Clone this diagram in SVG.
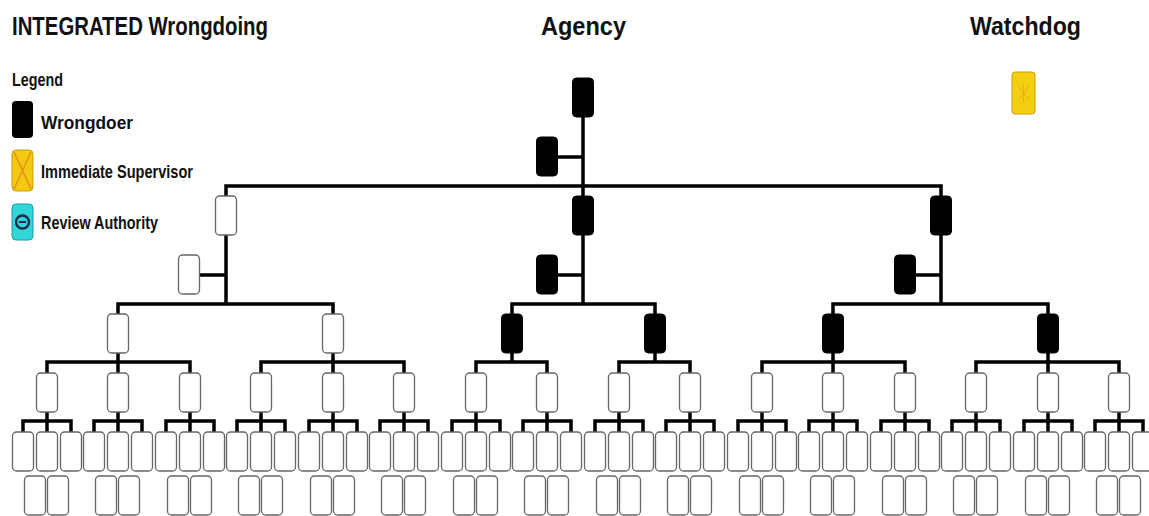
<svg xmlns="http://www.w3.org/2000/svg" xmlns:xlink="http://www.w3.org/1999/xlink" width="1149" height="516" viewBox="0 0 1149 516">
  <style>
    .t { font-family: "Liberation Sans", Arial, sans-serif; font-weight: bold; fill: #111; }
    .title { font-size: 25px; }
    .leg { font-size: 19px; }
    .legh { font-size: 18px; }
    .wire { fill: none; stroke: #000; stroke-width: 3.5; stroke-linejoin: miter; }
  </style>
  <defs>
    <rect id="wbox" width="21" height="39" rx="4" fill="#fff" stroke="#666" stroke-width="1.3"/>
    <rect id="bbox" width="21" height="39" rx="4" fill="#000" stroke="#000" stroke-width="1"/>
  </defs>

  <rect width="1149" height="516" fill="#fff"/>

  <!-- headings -->
  <text class="t title" x="12" y="35" textLength="256" lengthAdjust="spacingAndGlyphs">INTEGRATED Wrongdoing</text>
  <text class="t title" x="541" y="35" textLength="85" lengthAdjust="spacingAndGlyphs">Agency</text>
  <text class="t title" x="970" y="35" textLength="111" lengthAdjust="spacingAndGlyphs">Watchdog</text>

  <!-- legend -->
  <g id="legend">
    <text class="t legh" x="12" y="86" textLength="51" lengthAdjust="spacingAndGlyphs">Legend</text>
    <rect x="12" y="101" width="21" height="37" rx="4" fill="#000"/>
    <text class="t leg" x="41" y="129" textLength="92" lengthAdjust="spacingAndGlyphs">Wrongdoer</text>
    <rect x="12" y="150" width="21" height="41" rx="4" fill="#f3c812" stroke="#c9a10a" stroke-width="1"/>
    <path d="M14,152 L31,189 M31,152 L14,189" stroke="#e0861a" stroke-width="1.2" fill="none"/>
    <text class="t leg" x="41" y="178" textLength="152" lengthAdjust="spacingAndGlyphs">Immediate Supervisor</text>
    <rect x="12" y="204" width="21" height="36" rx="4" fill="#33d6d8" stroke="#1a9fa3" stroke-width="1"/>
    <circle cx="22.5" cy="222" r="6.5" fill="none" stroke="#13304a" stroke-width="2.4"/>
    <path d="M19,222 H26" stroke="#13304a" stroke-width="2"/>
    <text class="t leg" x="41" y="229" textLength="117" lengthAdjust="spacingAndGlyphs">Review Authority</text>
  </g>

  <!-- watchdog -->
  <g id="watchdog">
    <rect x="1012" y="72" width="23" height="42" rx="3" fill="#f3cf12" stroke="#c9a10a" stroke-width="1"/>
    <path d="M1018,86 L1029,100 M1029,86 L1018,100 M1023.5,84 V102" stroke="#e8961a" stroke-width="1" opacity="0.6" fill="none"/>
  </g>

  <!-- connectors -->
  <g id="connectors" class="wire">
    <!-- top -->
    <path d="M583,117 V196"/>
    <path d="M557.5,157 H583"/>
    <path d="M226,196 V186 H941 V196"/>
    <!-- level 1 to level 2 -->
    <path d="M226,235 V304"/>
    <path d="M199.5,275 H226"/>
    <path d="M118,314 V304 H333 V314"/>
    <path d="M583,235 V304"/>
    <path d="M557.5,275 H583"/>
    <path d="M512,314 V304 H655 V314"/>
    <path d="M941,235 V304"/>
    <path d="M915.5,275 H941"/>
    <path d="M833,314 V304 H1048 V314"/>
    <!-- level 2 to level 3 -->
    <path d="M118,353 V373 M47,373 V362 H190 V373"/>
    <path d="M333,353 V373 M261,373 V362 H404 V373"/>
    <path d="M512,353 V362 M476,373 V362 H547 V373"/>
    <path d="M655,353 V362 M619,373 V362 H690 V373"/>
    <path d="M833,353 V373 M762,373 V362 H905 V373"/>
    <path d="M1048,353 V373 M976,373 V362 H1119 V373"/>
    <!-- level 3 to level 4 -->
    <path d="M47,412 V432 M23,432 V421 H71 V432"/>
    <path d="M118,412 V432 M94,432 V421 H142 V432"/>
    <path d="M190,412 V432 M166,432 V421 H214 V432"/>
    <path d="M261,412 V432 M237,432 V421 H285 V432"/>
    <path d="M333,412 V432 M309,432 V421 H357 V432"/>
    <path d="M404,412 V432 M380,432 V421 H428 V432"/>
    <path d="M476,412 V432 M452,432 V421 H500 V432"/>
    <path d="M547,412 V432 M523,432 V421 H571 V432"/>
    <path d="M619,412 V432 M595,432 V421 H643 V432"/>
    <path d="M690,412 V432 M666,432 V421 H714 V432"/>
    <path d="M762,412 V432 M738,432 V421 H786 V432"/>
    <path d="M833,412 V432 M809,432 V421 H857 V432"/>
    <path d="M905,412 V432 M881,432 V421 H929 V432"/>
    <path d="M976,412 V432 M952,432 V421 H1000 V432"/>
    <path d="M1048,412 V432 M1024,432 V421 H1072 V432"/>
    <path d="M1119,412 V432 M1095,432 V421 H1143 V432"/>
  </g>

  <!-- level 0 and staff -->
  <g id="n0"><use xlink:href="#bbox" x="572.5" y="78"/></g>
  <g id="s0"><use xlink:href="#bbox" x="536.5" y="137"/></g>

  <!-- level 1 -->
  <g id="n1-a"><use xlink:href="#wbox" x="215.5" y="196"/></g>
  <g id="n1-b"><use xlink:href="#bbox" x="572.5" y="196"/></g>
  <g id="n1-c"><use xlink:href="#bbox" x="930.5" y="196"/></g>
  <g id="s1-a"><use xlink:href="#wbox" x="178.5" y="255"/></g>
  <g id="s1-b"><use xlink:href="#bbox" x="536.5" y="255"/></g>
  <g id="s1-c"><use xlink:href="#bbox" x="894.5" y="255"/></g>

  <!-- level 2 -->
  <g id="n2-a"><use xlink:href="#wbox" x="107.5" y="314"/></g>
  <g id="n2-b"><use xlink:href="#wbox" x="322.5" y="314"/></g>
  <g id="n2-c"><use xlink:href="#bbox" x="501.5" y="314"/></g>
  <g id="n2-d"><use xlink:href="#bbox" x="644.5" y="314"/></g>
  <g id="n2-e"><use xlink:href="#bbox" x="822.5" y="314"/></g>
  <g id="n2-f"><use xlink:href="#bbox" x="1037.5" y="314"/></g>

  <!-- level 3 -->
  <g id="n3-01"><use xlink:href="#wbox" x="36.5" y="373"/></g>
  <g id="n3-02"><use xlink:href="#wbox" x="107.5" y="373"/></g>
  <g id="n3-03"><use xlink:href="#wbox" x="179.5" y="373"/></g>
  <g id="n3-04"><use xlink:href="#wbox" x="250.5" y="373"/></g>
  <g id="n3-05"><use xlink:href="#wbox" x="322.5" y="373"/></g>
  <g id="n3-06"><use xlink:href="#wbox" x="393.5" y="373"/></g>
  <g id="n3-07"><use xlink:href="#wbox" x="465.5" y="373"/></g>
  <g id="n3-08"><use xlink:href="#wbox" x="536.5" y="373"/></g>
  <g id="n3-09"><use xlink:href="#wbox" x="608.5" y="373"/></g>
  <g id="n3-10"><use xlink:href="#wbox" x="679.5" y="373"/></g>
  <g id="n3-11"><use xlink:href="#wbox" x="751.5" y="373"/></g>
  <g id="n3-12"><use xlink:href="#wbox" x="822.5" y="373"/></g>
  <g id="n3-13"><use xlink:href="#wbox" x="894.5" y="373"/></g>
  <g id="n3-14"><use xlink:href="#wbox" x="965.5" y="373"/></g>
  <g id="n3-15"><use xlink:href="#wbox" x="1037.5" y="373"/></g>
  <g id="n3-16"><use xlink:href="#wbox" x="1108.5" y="373"/></g>

  <!-- level 4 -->
  <g id="n4-01a"><use xlink:href="#wbox" x="12.5" y="432"/></g>
  <g id="n4-01b"><use xlink:href="#wbox" x="36.5" y="432"/></g>
  <g id="n4-01c"><use xlink:href="#wbox" x="60.5" y="432"/></g>
  <g id="n4-02a"><use xlink:href="#wbox" x="83.5" y="432"/></g>
  <g id="n4-02b"><use xlink:href="#wbox" x="107.5" y="432"/></g>
  <g id="n4-02c"><use xlink:href="#wbox" x="131.5" y="432"/></g>
  <g id="n4-03a"><use xlink:href="#wbox" x="155.5" y="432"/></g>
  <g id="n4-03b"><use xlink:href="#wbox" x="179.5" y="432"/></g>
  <g id="n4-03c"><use xlink:href="#wbox" x="203.5" y="432"/></g>
  <g id="n4-04a"><use xlink:href="#wbox" x="226.5" y="432"/></g>
  <g id="n4-04b"><use xlink:href="#wbox" x="250.5" y="432"/></g>
  <g id="n4-04c"><use xlink:href="#wbox" x="274.5" y="432"/></g>
  <g id="n4-05a"><use xlink:href="#wbox" x="298.5" y="432"/></g>
  <g id="n4-05b"><use xlink:href="#wbox" x="322.5" y="432"/></g>
  <g id="n4-05c"><use xlink:href="#wbox" x="346.5" y="432"/></g>
  <g id="n4-06a"><use xlink:href="#wbox" x="369.5" y="432"/></g>
  <g id="n4-06b"><use xlink:href="#wbox" x="393.5" y="432"/></g>
  <g id="n4-06c"><use xlink:href="#wbox" x="417.5" y="432"/></g>
  <g id="n4-07a"><use xlink:href="#wbox" x="441.5" y="432"/></g>
  <g id="n4-07b"><use xlink:href="#wbox" x="465.5" y="432"/></g>
  <g id="n4-07c"><use xlink:href="#wbox" x="489.5" y="432"/></g>
  <g id="n4-08a"><use xlink:href="#wbox" x="512.5" y="432"/></g>
  <g id="n4-08b"><use xlink:href="#wbox" x="536.5" y="432"/></g>
  <g id="n4-08c"><use xlink:href="#wbox" x="560.5" y="432"/></g>
  <g id="n4-09a"><use xlink:href="#wbox" x="584.5" y="432"/></g>
  <g id="n4-09b"><use xlink:href="#wbox" x="608.5" y="432"/></g>
  <g id="n4-09c"><use xlink:href="#wbox" x="632.5" y="432"/></g>
  <g id="n4-10a"><use xlink:href="#wbox" x="655.5" y="432"/></g>
  <g id="n4-10b"><use xlink:href="#wbox" x="679.5" y="432"/></g>
  <g id="n4-10c"><use xlink:href="#wbox" x="703.5" y="432"/></g>
  <g id="n4-11a"><use xlink:href="#wbox" x="727.5" y="432"/></g>
  <g id="n4-11b"><use xlink:href="#wbox" x="751.5" y="432"/></g>
  <g id="n4-11c"><use xlink:href="#wbox" x="775.5" y="432"/></g>
  <g id="n4-12a"><use xlink:href="#wbox" x="798.5" y="432"/></g>
  <g id="n4-12b"><use xlink:href="#wbox" x="822.5" y="432"/></g>
  <g id="n4-12c"><use xlink:href="#wbox" x="846.5" y="432"/></g>
  <g id="n4-13a"><use xlink:href="#wbox" x="870.5" y="432"/></g>
  <g id="n4-13b"><use xlink:href="#wbox" x="894.5" y="432"/></g>
  <g id="n4-13c"><use xlink:href="#wbox" x="918.5" y="432"/></g>
  <g id="n4-14a"><use xlink:href="#wbox" x="941.5" y="432"/></g>
  <g id="n4-14b"><use xlink:href="#wbox" x="965.5" y="432"/></g>
  <g id="n4-14c"><use xlink:href="#wbox" x="989.5" y="432"/></g>
  <g id="n4-15a"><use xlink:href="#wbox" x="1013.5" y="432"/></g>
  <g id="n4-15b"><use xlink:href="#wbox" x="1037.5" y="432"/></g>
  <g id="n4-15c"><use xlink:href="#wbox" x="1061.5" y="432"/></g>
  <g id="n4-16a"><use xlink:href="#wbox" x="1084.5" y="432"/></g>
  <g id="n4-16b"><use xlink:href="#wbox" x="1108.5" y="432"/></g>
  <g id="n4-16c"><use xlink:href="#wbox" x="1132.5" y="432"/></g>

  <!-- level 5 -->
  <g id="n5-01a"><use xlink:href="#wbox" x="24.5" y="476"/></g>
  <g id="n5-01b"><use xlink:href="#wbox" x="47.5" y="476"/></g>
  <g id="n5-02a"><use xlink:href="#wbox" x="95.5" y="476"/></g>
  <g id="n5-02b"><use xlink:href="#wbox" x="118.5" y="476"/></g>
  <g id="n5-03a"><use xlink:href="#wbox" x="167.5" y="476"/></g>
  <g id="n5-03b"><use xlink:href="#wbox" x="190.5" y="476"/></g>
  <g id="n5-04a"><use xlink:href="#wbox" x="238.5" y="476"/></g>
  <g id="n5-04b"><use xlink:href="#wbox" x="261.5" y="476"/></g>
  <g id="n5-05a"><use xlink:href="#wbox" x="310.5" y="476"/></g>
  <g id="n5-05b"><use xlink:href="#wbox" x="333.5" y="476"/></g>
  <g id="n5-06a"><use xlink:href="#wbox" x="381.5" y="476"/></g>
  <g id="n5-06b"><use xlink:href="#wbox" x="404.5" y="476"/></g>
  <g id="n5-07a"><use xlink:href="#wbox" x="453.5" y="476"/></g>
  <g id="n5-07b"><use xlink:href="#wbox" x="476.5" y="476"/></g>
  <g id="n5-08a"><use xlink:href="#wbox" x="524.5" y="476"/></g>
  <g id="n5-08b"><use xlink:href="#wbox" x="547.5" y="476"/></g>
  <g id="n5-09a"><use xlink:href="#wbox" x="596.5" y="476"/></g>
  <g id="n5-09b"><use xlink:href="#wbox" x="619.5" y="476"/></g>
  <g id="n5-10a"><use xlink:href="#wbox" x="667.5" y="476"/></g>
  <g id="n5-10b"><use xlink:href="#wbox" x="690.5" y="476"/></g>
  <g id="n5-11a"><use xlink:href="#wbox" x="739.5" y="476"/></g>
  <g id="n5-11b"><use xlink:href="#wbox" x="762.5" y="476"/></g>
  <g id="n5-12a"><use xlink:href="#wbox" x="810.5" y="476"/></g>
  <g id="n5-12b"><use xlink:href="#wbox" x="833.5" y="476"/></g>
  <g id="n5-13a"><use xlink:href="#wbox" x="882.5" y="476"/></g>
  <g id="n5-13b"><use xlink:href="#wbox" x="905.5" y="476"/></g>
  <g id="n5-14a"><use xlink:href="#wbox" x="953.5" y="476"/></g>
  <g id="n5-14b"><use xlink:href="#wbox" x="976.5" y="476"/></g>
  <g id="n5-15a"><use xlink:href="#wbox" x="1025.5" y="476"/></g>
  <g id="n5-15b"><use xlink:href="#wbox" x="1048.5" y="476"/></g>
  <g id="n5-16a"><use xlink:href="#wbox" x="1096.5" y="476"/></g>
  <g id="n5-16b"><use xlink:href="#wbox" x="1119.5" y="476"/></g>
</svg>
